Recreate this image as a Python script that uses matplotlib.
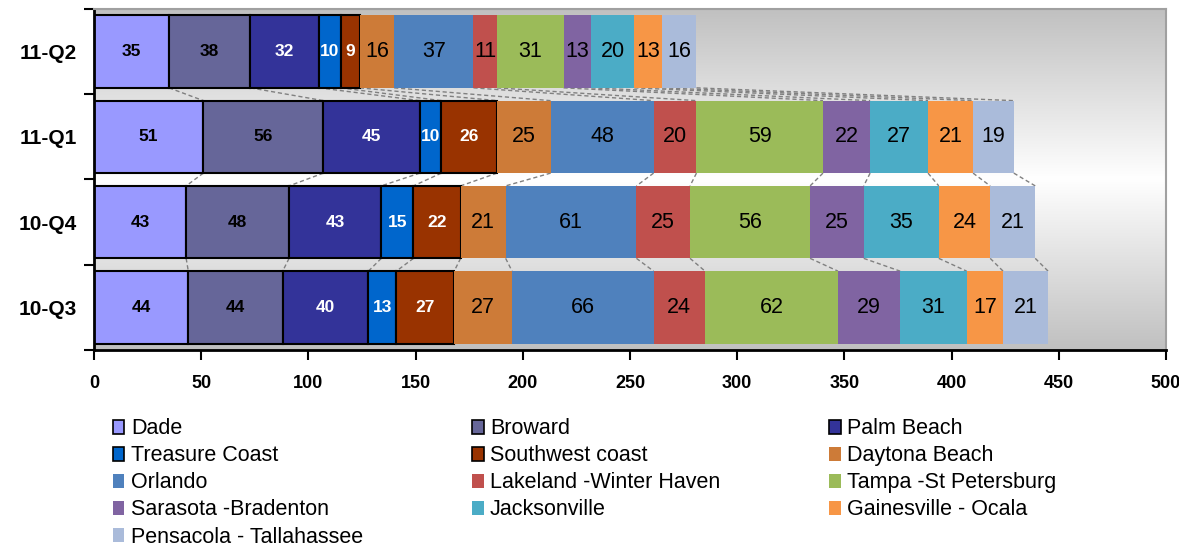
import numpy as np
import matplotlib.pyplot as plt
from matplotlib.patches import Patch
from matplotlib.colors import LinearSegmentedColormap

plt.rcParams['font.family'] = ['Liberation Sans', 'DejaVu Sans']

# quarters, top to bottom
quarters = ['11-Q2', '11-Q1', '10-Q4', '10-Q3']
regions = ['Dade', 'Broward', 'Palm Beach', 'Treasure Coast', 'Southwest coast',
           'Daytona Beach', 'Orlando', 'Lakeland -Winter Haven', 'Tampa -St Petersburg',
           'Sarasota -Bradenton', 'Jacksonville', 'Gainesville - Ocala',
           'Pensacola - Tallahassee']
q11_2 = [35, 38, 32, 10, 9, 16, 37, 11, 31, 13, 20, 13, 16]
q11_1 = [51, 56, 45, 10, 26, 25, 48, 20, 59, 22, 27, 21, 19]
q10_4 = [43, 48, 43, 15, 22, 21, 61, 25, 56, 25, 35, 24, 21]
q10_3 = [44, 44, 40, 13, 27, 27, 66, 24, 62, 29, 31, 17, 21]

colors = ['#9999FF', '#666699', '#333399', '#0066CC', '#993300', '#CD7B38',
          '#4F81BD', '#C0504D', '#9BBB59', '#8064A2', '#4BACC6', '#F79646', '#AABBDA']

data = np.array([q11_2, q11_1, q10_4, q10_3])
nser = len(regions)
ypos = np.arange(len(quarters))
h = 0.85

fig = plt.figure(figsize=(11.79, 5.48), dpi=100)
ax = fig.add_axes([0.0797, 0.3613, 0.9093, 0.6223])

# gradient background: gray -> white -> gray
grad = np.abs(np.linspace(-1, 1, 256))[:, None]
cm = LinearSegmentedColormap.from_list('g', ['#ffffff', '#c0c0c0'])
ax.imshow(grad, cmap=cm, extent=[0, 1, 0, 1], transform=ax.transAxes, aspect='auto',
          zorder=0, interpolation='bicubic', vmin=0, vmax=1)

left = np.zeros(len(quarters))
for j in range(nser):
    vals = data[:, j]
    boxed = j < 5
    ax.barh(ypos, vals, left=left, height=h, color=colors[j],
            edgecolor='black' if boxed else 'none', linewidth=1.5 if boxed else 0, zorder=2)
    for i in range(len(quarters)):
        cx = left[i] + vals[i] / 2
        if boxed:
            tc = 'black' if j < 2 else 'white'
            ax.text(cx, ypos[i], str(vals[i]), ha='center', va='center', fontsize=12.5,
                    fontweight='bold', color=tc, zorder=4)
        else:
            ax.text(cx, ypos[i], str(vals[i]), ha='center', va='center', fontsize=15.5,
                    color='black', zorder=4)
    left = left + vals

# series lines between bars
cum = np.cumsum(data, axis=1)
for i in range(len(quarters) - 1):
    for j in range(nser):
        ax.plot([cum[i, j], cum[i + 1, j]], [ypos[i] + h / 2, ypos[i + 1] - h / 2],
                color='#808080', ls='--', lw=1, dashes=(3, 2), zorder=1)

ax.set_xlim(0, 500)
ax.set_ylim(len(quarters) - 0.5, -0.5)
ax.set_xticks(np.arange(0, 501, 50))
ax.set_xticklabels([str(v) for v in range(0, 501, 50)], fontsize=13, fontweight='bold')
ax.set_yticks(np.arange(-0.5, len(quarters), 1))
ax.set_yticklabels([])
ax.set_yticks(ypos, minor=True)
ax.set_yticklabels(quarters, minor=True, fontsize=15, fontweight='bold')
ax.tick_params(axis='y', which='minor', length=0, pad=12)
ax.tick_params(axis='y', which='major', direction='out', length=7, width=1.5)
ax.tick_params(axis='x', direction='out', length=7, width=1.5, pad=11)
for s in ['left', 'bottom']:
    ax.spines[s].set_linewidth(2)
    ax.spines[s].set_color('black')
for s in ['top', 'right']:
    ax.spines[s].set_linewidth(1.5)
    ax.spines[s].set_color('#a0a0a0')

# legend, row-major order
handles = [Patch(facecolor=colors[j], edgecolor='black' if j < 5 else 'none',
                 linewidth=1.2 if j < 5 else 0) for j in range(nser)]
order = [0, 3, 6, 9, 12, 1, 4, 7, 10, 2, 5, 8, 11]
fig.legend([handles[k] for k in order], [regions[k] for k in order], ncol=3,
           loc='upper left', bbox_to_anchor=(0.0955, 0.2365), frameon=False, fontsize=15.5,
           handlelength=0.55, handleheight=0.65, handletextpad=0.3, columnspacing=5.05,
           labelspacing=0.28, borderaxespad=0, borderpad=0)

fig.savefig('out.png', dpi=100)
